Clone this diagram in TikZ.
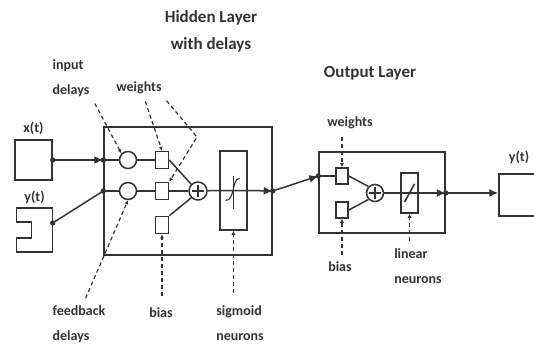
\documentclass[tikz,border=0pt]{standalone}
\usepackage{fontspec}
\setmainfont{Carlito}
\usetikzlibrary{arrows.meta, positioning}
\definecolor{ink}{HTML}{333333}

\begin{document}
\begin{tikzpicture}[x=1pt, y=-1pt, node distance=1pt,
        every node/.style={font=\fontsize{14}{25}\selectfont\bfseries, text=ink},
        wire/.style={draw=ink, line width=1.5pt},
        layer/.style={rectangle, wire, inner sep=0pt},
        delay/.style={circle, wire, minimum size=17pt, inner sep=0pt},
        wbox/.style={rectangle, wire, minimum width=13pt, minimum height=17pt, inner sep=0pt},
        sumnode/.style={circle, wire, minimum size=18pt, inner sep=0pt},
        arr/.style={wire, -{Latex[length=9pt, width=8pt]}},
        note/.style={draw=ink, line width=1.2pt, dash pattern=on 4pt off 3pt, shorten <=4pt, -{Latex[length=4pt, width=4pt]}},
        title/.style={font=\fontsize{17}{27}\selectfont\bfseries, align=center}]
        \useasboundingbox (0,0) rectangle (534,347);

        % layers and ports
        \node[layer, minimum width=168pt, minimum height=128pt] (hid) at (188,191) {};
        \node[layer, minimum width=126pt, minimum height=81pt] (out) at (382,192.5) {};
        \node[layer, minimum width=37pt, minimum height=40pt] (xin) at (33.5,160) {};
        \node[minimum width=36pt, minimum height=44pt, inner sep=0pt] (yin) at (34.5,230) {};
        \node[layer, minimum width=40pt, minimum height=42pt] (yout) at (519,195) {};
        \draw[wire] (yin.north west) -- (yin.north east) -- (yin.south east) -- (yin.south west)
            -- ([shift={(0,-14)}]yin.south west) -- ([shift={(15,-14)}]yin.south west)
            -- ([shift={(15,14)}]yin.north west) -- ([shift={(0,14)}]yin.north west) -- cycle;

        % hidden layer
        \node[delay] (d1) at (128,160) {};
        \node[delay] (d2) at (128,191) {};
        \node[wbox] (w1) at (162,160) {};
        \node[wbox] (w2) at (162,191) {};
        \node[wbox] (b1) at (162,225) {};
        \node[sumnode] (s1) at (198,191) {};
        \node[layer, minimum width=27pt, minimum height=79pt] (sig) at (233.5,190.5) {};

        % output layer
        \node[wbox, minimum width=12pt, minimum height=16pt] (ow1) at (342,176) {};
        \node[wbox, minimum width=12pt, minimum height=16pt] (ob1) at (342,210) {};
        \node[sumnode, minimum size=17pt] (os) at (375,193) {};
        \node[layer, minimum width=17pt, minimum height=40pt] (lin) at (409.5,193) {};

        \coordinate (h1) at (hid.west |- d1);
        \coordinate (h2) at (hid.west |- d2);
        \coordinate (h3) at (hid.east |- s1);
        \coordinate (o1) at (out.west |- ow1);
        \coordinate (o2) at (out.east |- os);
        \coordinate (xo) at (xin.east);
        \coordinate (yo) at ([shift={(0,-7)}]yin.east);

        \draw[arr] (xo) -- (h1);
        \draw[wire] (yo) -- (h2);
        \draw[wire] (h1) -- (d1) -- (w1);
        \draw[wire] (h2) -- (d2) -- (w2) -- (s1);
        \draw[wire] (w1.east) -- (s1.north west);
        \draw[wire] (b1.north east) -- (s1.south west);
        \draw[wire] (s1) -- (sig.west) -- (sig.east);
        \draw[arr] (sig.east) -- (h3);
        \draw[arr] (h3) -- (o1);
        \draw[wire] (o1) -- (ow1);
        \draw[wire] (ow1.east) -- (os.north west);
        \draw[wire] (ob1.east) -- (os.south west);
        \draw[wire] (os) -- (lin.west) -- (lin.east);
        \draw[arr] (lin.east) -- (o2);
        \draw[arr] (o2) -- (o2 -| yout.west);
        \foreach \p in {xo,yo,h1,h2,h3,o1,o2}
            \fill[ink] (\p) circle (2.7pt);

        % plus signs, sigmoid and linear marks
        \draw[wire, line width=1.1pt] (s1.center) ++(0,-6) -- ++(0,12) (s1.center) ++(-6,0) -- ++(12,0);
        \draw[wire, line width=1.1pt] (os.center) ++(0,-6) -- ++(0,12) (os.center) ++(-6,0) -- ++(12,0);
        \draw[wire, line width=1.1pt] ([shift={(-8,10)}]sig.center) .. controls ([shift={(2,10)}]sig.center)
            and ([shift={(-2,-12)}]sig.center) .. ([shift={(6,-12)}]sig.center);
        \draw[wire, line width=1.1pt] ([shift={(0,-14)}]sig.center) -- ([shift={(0,18)}]sig.center);
        \draw[wire, line width=1.6pt] ([shift={(-5,9)}]lin.center) -- ([shift={(5,-9)}]lin.center);

        % labels
        \node[title] (thid) at (211,31) {Hidden Layer\\with delays};
        \node[title] (tout) at (370,73) {Output Layer};
        \node[above=of xin] (lxin) {x(t)};
        \node[above=of yin] (lyin) {y(t)};
        \node[above=6pt of yout] (lyout) {y(t)};
        \node[align=left] (lindel) at (71,78) {input\\delays};
        \node (lwts) at (139,88) {weights};
        \node[align=left] (lfbd) at (79,324) {feedback\\delays};
        \node (lbias) at (161,313) {bias};
        \node[align=left] (lsig) at (240,323) {sigmoid\\neurons};
        \node (lowts) at (350,123) {weights};
        \node (lobias) at (340,267) {bias};
        \node[align=left] (llin) at (418,266) {linear\\neurons};

        % annotations
        \coordinate (wbend) at (197,137);
        \draw[note] (lindel.south east) -- (d1.north west);
        \draw[note] ([shift={(5,0)}]lwts.south) -- (w1.north);
        \draw[note] ([shift={(25,0)}]lwts.south) -- (wbend) -- (w2.north east);
        \draw[note] ([shift={(5,0)}]lfbd.north) -- (d2.south);
        \draw[note, shorten <=9pt] (lbias.north -| b1.south) -- (b1.south);
        \draw[note, shorten <=9pt] (lsig.north -| sig.south) -- (sig.south);
        \draw[note] (lowts.south -| ow1.north) -- (ow1.north);
        \draw[note] (lobias.north -| ob1.south) -- (ob1.south);
        \draw[note] (llin.north -| lin.south) -- (lin.south);
    \end{tikzpicture}
\end{document}
